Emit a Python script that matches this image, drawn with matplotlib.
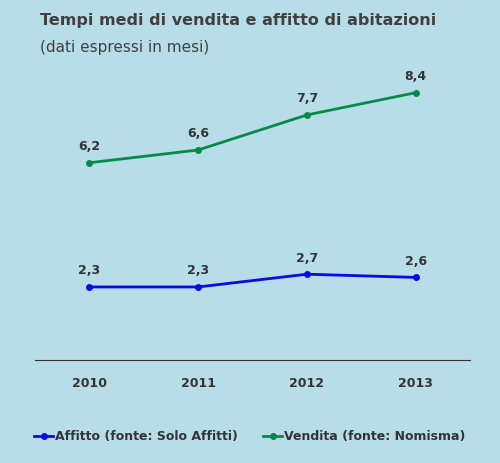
import matplotlib.pyplot as plt

years = ["2010", "2011", "2012", "2013"]
affitto = [2.3, 2.3, 2.7, 2.6]
vendita = [6.2, 6.6, 7.7, 8.4]

bg = "#b7dde8"
fig = plt.figure(figsize=(5, 4.63), dpi=100, facecolor=bg)
ax = fig.add_axes([0.07, 0.222, 0.87, 0.626], facecolor=bg)

x = range(len(years))
ax.plot(x, affitto, color="#0a0ae6", lw=2, marker="o", ms=4, label="Affitto (fonte: Solo Affitti)")
ax.plot(x, vendita, color="#078a47", lw=2, marker="o", ms=4, label="Vendita (fonte: Nomisma)")

for xi, v in zip(x, affitto):
    ax.text(xi, v + 0.3, f"{v:.1f}".replace(".", ","), ha="center", va="bottom",
            fontsize=9, fontweight="bold", color="#333333")
for xi, v in zip(x, vendita):
    ax.text(xi, v + 0.3, f"{v:.1f}".replace(".", ","), ha="center", va="bottom",
            fontsize=9, fontweight="bold", color="#333333")

ax.set_xlim(-0.5, 3.5)
ax.set_ylim(0, 9.1)
ax.set_xticks(list(x))
ax.set_xticklabels(years, fontsize=9, fontweight="bold", color="#333333")
ax.set_yticks([])
for s in ["top", "right", "left"]:
    ax.spines[s].set_visible(False)
ax.spines["bottom"].set_color("#333333")
ax.tick_params(axis="x", length=0, pad=12)

fig.text(0.08, 0.955, "Tempi medi di vendita e affitto di abitazioni", fontsize=11.5,
         fontweight="bold", color="#404040", va="center")
fig.text(0.08, 0.897, "(dati espressi in mesi)", fontsize=11, color="#404040", va="center")

leg = fig.legend(loc="center", bbox_to_anchor=(0.5, 0.057), ncol=2, frameon=False,
                 handlelength=1.5, handletextpad=0.2, columnspacing=2,
                 prop={"weight": "bold", "size": 9})
for t in leg.get_texts():
    t.set_color("#333333")

fig.savefig("out.png", dpi=100, facecolor=bg)
